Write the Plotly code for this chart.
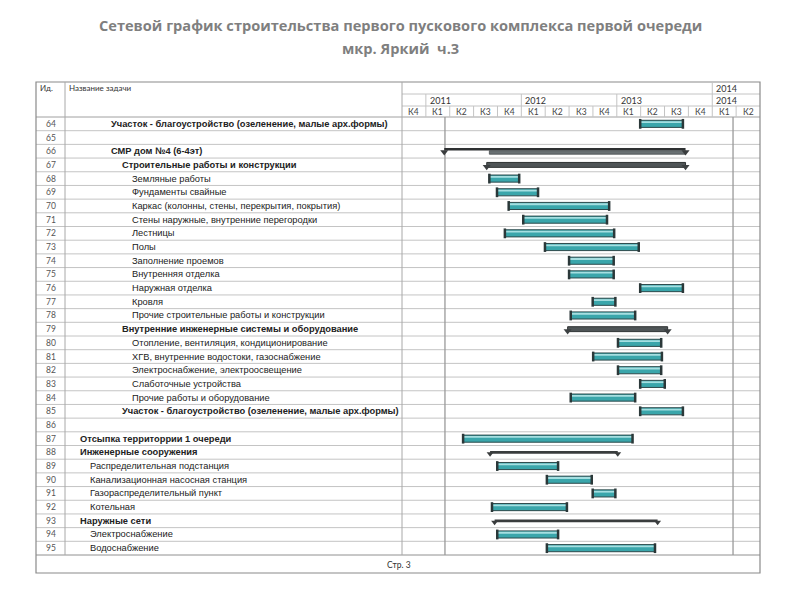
import plotly.graph_objects as go

# ---------------- data ----------------
ids = list(range(64, 96))
names = [
    "Участок - благоустройство (озеленение, малые арх.формы)",
    "",
    "СМР дом №4 (6-4эт)",
    "Строительные работы и конструкции",
    "Земляные работы",
    "Фундаменты свайные",
    "Каркас (колонны, стены, перекрытия, покрытия)",
    "Стены наружные, внутренние перегородки",
    "Лестницы",
    "Полы",
    "Заполнение проемов",
    "Внутренняя отделка",
    "Наружная отделка",
    "Кровля",
    "Прочие строительные работы и конструкции",
    "Внутренние инженерные системы и оборудование",
    "Отопление, вентиляция, кондиционирование",
    "ХГВ, внутренние водостоки, газоснабжение",
    "Электроснабжение, электроосвещение",
    "Слаботочные устройства",
    "Прочие работы и оборудование",
    "Участок - благоустройство (озеленение, малые арх.формы)",
    "",
    "Отсыпка территоррии 1 очереди",
    "Инженерные сооружения",
    "Распределительная подстанция",
    "Канализационная насосная станция",
    "Газораспределительный пункт",
    "Котельная",
    "Наружные сети",
    "Электроснабжение",
    "Водоснабжение",
]
levels = [3, 0, 3, 4, 5, 5, 5, 5, 5, 5, 5, 5, 5, 5, 5, 4, 5, 5, 5, 5, 5, 4, 0, 0, 0, 1, 1, 1, 1, 0, 1, 1]
bold_ids = [64, 66, 67, 79, 85, 87, 88, 93]

# time in quarters, 0 = start of 2010 К4
quarter_labels = ["К4", "К1", "К2", "К3", "К4", "К1", "К2", "К3", "К4",
                  "К1", "К2", "К3", "К4", "К1", "К2"]
year_labels = ["2011", "2012", "2013", "2014"]
year_starts = [1, 5, 9, 13]
top_year_label = "2014"
top_year_start = 13

# ordinary tasks
task_ids = [64, 68, 69, 70, 71, 72, 73, 74, 75, 76, 77, 78, 80, 81, 82, 83, 84, 85,
            87, 89, 90, 91, 92, 94, 95]
task_start = [9.98, 3.66, 3.98, 4.47, 5.08, 4.31, 5.99, 7.00, 7.00, 9.98, 7.99, 7.07,
              9.05, 8.01, 9.05, 9.98, 7.07, 9.98, 2.56, 3.99, 6.07, 7.99, 3.77, 3.99, 6.07]
task_end = [11.77, 4.91, 5.70, 8.68, 8.59, 8.89, 9.92, 8.87, 8.87, 11.77, 8.94, 9.77,
            10.86, 10.89, 10.86, 11.01, 9.77, 11.77, 9.66, 6.54, 7.95, 8.94, 6.91, 6.54, 10.60]

# summary tasks (thick)
group_ids = [67, 79]
group_start = [3.55, 6.94]
group_end = [11.88, 11.13]

# summary tasks (thin)
section_ids = [88, 93]
section_start = [3.69, 3.88]
section_end = [9.04, 10.71]

# project summary row
project_id = [66]
project_start = [1.77]
project_end = [11.88]
rollup_start = [3.66]
rollup_end = [11.88]

# vertical marker lines (quarters)
marker_lines = [1.80, 13.87]

title_lines = ["Сетевой график строительства первого пускового комплекса первой очереди",
               "мкр. Яркий\u00a0\u00a0ч.3"]
footer_text = "Стр. 3"

# ---------------- geometry helpers ----------------
W, H = 800, 600
def PX(x):
    return x / W
def PY(y):
    return 1 - y / H

L, R = 36, 760
TOP, HDR_BOT, ROW_BOT, FOOT_BOT = 82, 117, 555, 573
ID_SEP, TL_LEFT = 65, 402
HDR_R1, HDR_R2 = 94, 106

TEXT_FONT = "Liberation Sans"
HDR_FONT = "Lato"

fig = go.Figure()

# tasks
dur = [e - s for s, e in zip(task_start, task_end)]
fig.add_trace(go.Bar(orientation="h", y=task_ids, base=task_start, x=dur, width=0.52,
                     marker=dict(color="#3aa6ab", line=dict(color="#2d4a4c", width=1)),
                     hoverinfo="skip", showlegend=False))
fig.add_trace(go.Bar(orientation="h", y=task_ids, base=task_start, x=dur, width=0.13, offset=-0.19,
                     marker=dict(color="rgba(185,233,234,0.85)", line=dict(width=0)),
                     hoverinfo="skip", showlegend=False))
fig.add_trace(go.Scatter(x=task_start + task_end, y=task_ids + task_ids, mode="markers",
                         marker=dict(symbol="line-ns", size=7,
                                     line=dict(color="#2b3839", width=2.5)),
                         hoverinfo="skip", showlegend=False))

# thick summaries
gdur = [e - s for s, e in zip(group_start, group_end)]
fig.add_trace(go.Bar(orientation="h", y=group_ids, base=group_start, x=gdur, width=0.36,
                     marker=dict(color="#4f5557", line=dict(color="#2f3334", width=1)),
                     hoverinfo="skip", showlegend=False))
fig.add_trace(go.Scatter(x=group_start + group_end, y=[v + 0.14 for v in group_ids + group_ids],
                         mode="markers",
                         marker=dict(symbol="triangle-down", size=7, color="#3c4042"),
                         hoverinfo="skip", showlegend=False))

# thin summaries
sdur = [e - s for s, e in zip(section_start, section_end)]
fig.add_trace(go.Bar(orientation="h", y=section_ids, base=section_start, x=sdur, width=0.2,
                     marker=dict(color="#3a3d3e", line=dict(width=0)),
                     hoverinfo="skip", showlegend=False))
fig.add_trace(go.Scatter(x=section_start + section_end,
                         y=[v + 0.1 for v in section_ids + section_ids], mode="markers",
                         marker=dict(symbol="triangle-down", size=6, color="#3a3d3e"),
                         hoverinfo="skip", showlegend=False))

# project row
pdur = [e - s for s, e in zip(project_start, project_end)]
fig.add_trace(go.Bar(orientation="h", y=project_id, base=project_start, x=pdur, width=0.12,
                     offset=-0.18, marker=dict(color="#2e3132", line=dict(width=0)),
                     hoverinfo="skip", showlegend=False))
rdur = [e - s for s, e in zip(rollup_start, rollup_end)]
fig.add_trace(go.Bar(orientation="h", y=project_id, base=rollup_start, x=rdur, width=0.26,
                     offset=-0.04, marker=dict(color="#6a7173", line=dict(color="#4a4f50", width=0.8)),
                     hoverinfo="skip", showlegend=False))
fig.add_trace(go.Scatter(x=project_start + project_end, y=[v + 0.05 for v in project_id * 2],
                         mode="markers",
                         marker=dict(symbol="triangle-down", size=7, color="#3a3d3e"),
                         hoverinfo="skip", showlegend=False))

shapes = []
def hline(y0, x0, x1, color="#c4c4c4", w=1, yref="paper"):
    shapes.append(dict(type="line", xref="paper", yref=yref, x0=x0, x1=x1, y0=y0, y1=y0,
                       line=dict(color=color, width=w), layer="below"))

# row separators
for i in ids[:-1]:
    hline(i + 0.5, PX(L), PX(R), yref="y")
# header/footer lines
hline(PY(HDR_BOT), PX(L), PX(R), color="#a0a0a0")
hline(PY(ROW_BOT), PX(L), PX(R), color="#909090")
hline(PY(HDR_R1), PX(TL_LEFT), PX(R), color="#c4c4c4")
hline(PY(HDR_R2), PX(TL_LEFT), PX(R), color="#c4c4c4")
# outer border
shapes.append(dict(type="rect", xref="paper", yref="paper", x0=PX(L), x1=PX(R),
                   y0=PY(FOOT_BOT), y1=PY(TOP), line=dict(color="#8a8a8a", width=1.2)))
# column separators
for xp in (ID_SEP, TL_LEFT):
    shapes.append(dict(type="line", xref="paper", yref="paper", x0=PX(xp), x1=PX(xp),
                       y0=PY(ROW_BOT), y1=PY(TOP), line=dict(color="#a8a8a8", width=1)))
# header separators
shapes.append(dict(type="line", xref="x", yref="paper", x0=top_year_start, x1=top_year_start,
                   y0=PY(HDR_R1), y1=PY(TOP), line=dict(color="#c4c4c4", width=1)))
for ys in year_starts:
    shapes.append(dict(type="line", xref="x", yref="paper", x0=ys, x1=ys,
                       y0=PY(HDR_R2), y1=PY(HDR_R1), line=dict(color="#c4c4c4", width=1)))
for q in range(1, len(quarter_labels)):
    shapes.append(dict(type="line", xref="x", yref="paper", x0=q, x1=q,
                       y0=PY(HDR_BOT), y1=PY(HDR_R2), line=dict(color="#c4c4c4", width=1)))
# marker lines
for m in marker_lines:
    shapes.append(dict(type="line", xref="x", yref="paper", x0=m, x1=m,
                       y0=PY(ROW_BOT), y1=PY(HDR_BOT), line=dict(color="#9a9a9a", width=1.3),
                       layer="below"))

ann = []
# title
for ty, line in zip((25, 48), title_lines):
    ann.append(dict(xref="paper", yref="paper", x=0.5, y=PY(ty), text="<b>" + line + "</b>",
                    showarrow=False, font=dict(family="Open Sans", size=14.6, color="#7f7f7f"),
                    xanchor="center", yanchor="middle"))
# header texts
ann.append(dict(xref="paper", yref="paper", x=PX(38), y=PY(88), text="Ид.", showarrow=False,
                font=dict(family=HDR_FONT, size=8, color="#333"), xanchor="left", yanchor="middle"))
ann.append(dict(xref="paper", yref="paper", x=PX(67), y=PY(88), text="Название задачи",
                showarrow=False, font=dict(family=HDR_FONT, size=8, color="#333"),
                xanchor="left", yanchor="middle"))
ann.append(dict(xref="x", yref="paper", x=top_year_start, y=PY(88), text=top_year_label,
                showarrow=False, xshift=2, font=dict(family=HDR_FONT, size=9, color="#333"),
                xanchor="left", yanchor="middle"))
for lab, ys in zip(year_labels, year_starts):
    ann.append(dict(xref="x", yref="paper", x=ys, y=PY(100.5), text=lab, showarrow=False, xshift=2,
                    font=dict(family=HDR_FONT, size=9, color="#333"), xanchor="left",
                    yanchor="middle"))
for q, lab in enumerate(quarter_labels):
    ann.append(dict(xref="x", yref="paper", x=q + 0.5, y=PY(112), text=lab, showarrow=False,
                    font=dict(family=HDR_FONT, size=8.5, color="#444"), xanchor="center",
                    yanchor="middle"))
# rows
for i, nm, lv in zip(ids, names, levels):
    ann.append(dict(xref="paper", yref="y", x=PX(50.5), y=i, text=str(i), showarrow=False,
                    font=dict(family=HDR_FONT, size=8.5, color="#555"), xanchor="center",
                    yanchor="middle"))
    if nm:
        t = "<b>" + nm + "</b>" if i in bold_ids else nm
        ann.append(dict(xref="paper", yref="y", x=PX(78 + 10.4 * lv), y=i, text=t,
                        showarrow=False, font=dict(family=TEXT_FONT, size=9.3, color="#222"),
                        xanchor="left", yanchor="middle"))
# footer
ann.append(dict(xref="paper", yref="paper", x=PX(399), y=PY(565), text=footer_text,
                showarrow=False, font=dict(family=HDR_FONT, size=8.5, color="#333"),
                xanchor="center", yanchor="middle"))

fig.update_layout(
    width=W, height=H, margin=dict(l=0, r=0, t=0, b=0),
    paper_bgcolor="white", plot_bgcolor="rgba(0,0,0,0)",
    barmode="overlay", showlegend=False,
    xaxis=dict(domain=[PX(TL_LEFT), PX(R)], range=[0, len(quarter_labels)], visible=False,
               fixedrange=True),
    yaxis=dict(domain=[PY(ROW_BOT), PY(HDR_BOT)], range=[ids[-1] + 0.5, ids[0] - 0.5],
               visible=False, fixedrange=True),
    shapes=shapes, annotations=ann,
)

fig.write_html("out.html", config={"displayModeBar": False},
               post_script="document.body.style.margin='0';")
